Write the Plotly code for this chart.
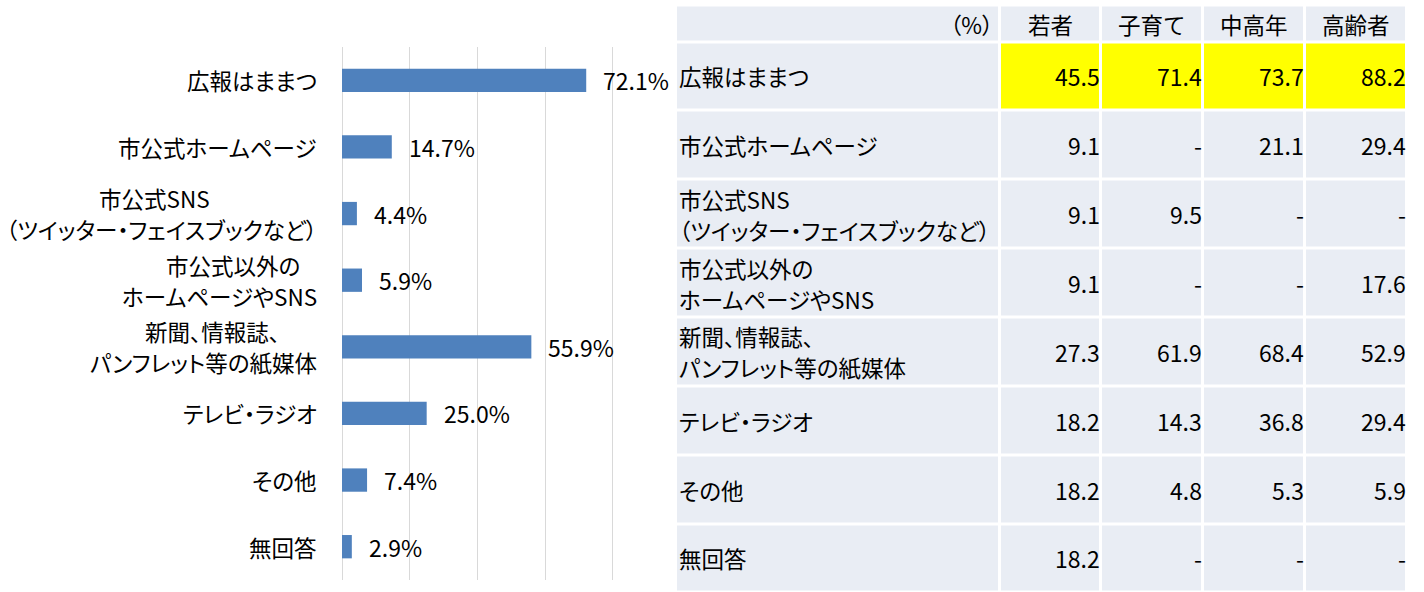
import plotly.graph_objects as go

# ---------------- data ----------------
categories = [
    "広報はままつ",
    "市公式ホームページ",
    "市公式SNS<br>（ツイッター・フェイスブックなど）",
    "市公式以外の<br>ホームページやSNS",
    "新聞、情報誌、<br>パンフレット等の紙媒体",
    "テレビ・ラジオ",
    "その他",
    "無回答",
]
overall_pct = [72.1, 14.7, 4.4, 5.9, 55.9, 25.0, 7.4, 2.9]

groups = ["若者", "子育て", "中高年", "高齢者"]
young = [45.5, 9.1, 9.1, 9.1, 27.3, 18.2, 18.2, 18.2]
parenting = [71.4, None, 9.5, None, 61.9, 14.3, 4.8, None]
middle_aged = [73.7, 21.1, None, None, 68.4, 36.8, 5.3, None]
elderly = [88.2, 29.4, None, 17.6, 52.9, 29.4, 5.9, None]
unit_label = "（%）"
highlight_category = "広報はままつ"

# ---------------- style constants ----------------
W, H = 1424, 592
FONT = "Noto Sans CJK JP, Noto Sans, sans-serif"
BAR_COLOR = "#4F81BD"
GRID_COLOR = "#D9D9D9"
CELL_COLOR = "#E9EDF4"
HILITE_COLOR = "#FFFF00"
TXT = "#000000"
JP_SIZE = 22.5
NUM_SIZE = 23
LINE_GAP = 31  # px between lines of two-line labels


def palt(s):
    return f"<span style=\"font-feature-settings:'palt'\">{s}</span>"


fig = go.Figure()

# ---------------- bar chart ----------------
fig.add_trace(go.Bar(
    x=overall_pct, y=categories, orientation="h",
    marker=dict(color=BAR_COLOR, line=dict(width=0)),
    width=0.35, xaxis="x", yaxis="y", hoverinfo="skip", showlegend=False,
))

annotations = []
LABEL_RIGHT = 319 / W
for cat, v in zip(categories, overall_pct):
    annotations.append(dict(
        x=v, y=cat, xref="x", yref="y", text=f"{v:.1f}%",
        xanchor="left", yanchor="middle", xshift=15, showarrow=False,
        font=dict(family=FONT, size=23, color=TXT),
    ))
    lines = cat.split("<br>")
    if len(lines) == 1:
        annotations.append(dict(
            x=LABEL_RIGHT, y=cat, xref="paper", yref="y", text=palt(cat),
            xanchor="right", yanchor="middle", showarrow=False,
            font=dict(family=FONT, size=JP_SIZE, color=TXT),
        ))
    else:
        # longest line right-aligned; other line centred on it
        est = [sum(1.0 if ord(ch) > 0x2000 else 0.62 for ch in ln) * JP_SIZE * 0.86 for ln in lines]
        long_i = est.index(max(est))
        for k, ln in enumerate(lines):
            ys = (0.5 - k) * LINE_GAP
            if k == long_i:
                ann = dict(x=LABEL_RIGHT, xanchor="right")
            else:
                ann = dict(x=LABEL_RIGHT - est[long_i] / 2 / W, xanchor="center")
            ann.update(dict(
                y=cat, xref="paper", yref="y", text=palt(ln), yshift=ys,
                yanchor="middle", showarrow=False,
                font=dict(family=FONT, size=JP_SIZE, color=TXT),
            ))
            annotations.append(ann)

# ---------------- table (heatmap cells + annotations) ----------------
label_col_w = 3.175        # in numeric-column units
col_edges = [0, label_col_w] + [label_col_w + i + 1 for i in range(len(groups))]
header_h = 0.53            # in data-row units
row_edges = [0, header_h] + [header_h + i + 1 for i in range(len(categories))]

columns = [young, parenting, middle_aged, elderly]
z = [[0] * (len(groups) + 1)]
for cat in categories:
    flag = 1 if cat == highlight_category else 0
    z.append([0] + [flag] * len(groups))

fig.add_trace(go.Heatmap(
    z=z, x=col_edges, y=row_edges,
    colorscale=[[0, CELL_COLOR], [1, HILITE_COLOR]], zmin=0, zmax=1,
    showscale=False, xgap=3, ygap=3, hoverinfo="skip",
    xaxis="x2", yaxis="y2",
))

annotations.append(dict(
    x=label_col_w, y=header_h / 2, xref="x2", yref="y2", text=palt(unit_label),
    xanchor="right", yanchor="middle", xshift=-5, showarrow=False,
    font=dict(family=FONT, size=JP_SIZE, color=TXT),
))
for i, g in enumerate(groups):
    annotations.append(dict(
        x=label_col_w + i + 0.5, y=header_h / 2, xref="x2", yref="y2", text=g,
        xanchor="center", yanchor="middle", showarrow=False,
        font=dict(family=FONT, size=JP_SIZE, color=TXT),
    ))
for r, cat in enumerate(categories):
    yc = header_h + r + 0.5
    lines = cat.split("<br>")
    for k, ln in enumerate(lines):
        ys = ((len(lines) - 1) / 2 - k) * LINE_GAP
        annotations.append(dict(
            x=0, y=yc, xref="x2", yref="y2", text=palt(ln), yshift=ys,
            xanchor="left", yanchor="middle", xshift=1, showarrow=False,
            font=dict(family=FONT, size=JP_SIZE, color=TXT),
        ))
    for i, col in enumerate(columns):
        v = col[r]
        annotations.append(dict(
            x=label_col_w + i + 1, y=yc, xref="x2", yref="y2",
            text="-" if v is None else f"{v:.1f}",
            xanchor="right", yanchor="middle", xshift=1, showarrow=False,
            font=dict(family=FONT, size=NUM_SIZE, color=TXT),
        ))

# table pixel geometry
tbl_left, tbl_top, row_px, numcol_px = 676, 5.5, 68.86, 101.9
tbl_right = tbl_left + col_edges[-1] * numcol_px
y_top_units = -tbl_top / row_px
y_bot_units = (H - tbl_top) / row_px

fig.update_layout(
    width=W, height=H, margin=dict(l=0, r=0, t=0, b=0),
    paper_bgcolor="white", plot_bgcolor="white",
    font=dict(family=FONT, color=TXT),
    xaxis=dict(
        domain=[342 / W, 614 / W], range=[0, 80.3], dtick=20, tick0=0,
        showgrid=True, gridcolor=GRID_COLOR, gridwidth=1.3,
        zeroline=True, zerolinecolor=GRID_COLOR, zerolinewidth=1.3,
        showticklabels=False, showline=False, ticks="", fixedrange=True,
    ),
    yaxis=dict(
        domain=[1 - 580 / H, 1 - 47 / H], autorange="reversed",
        type="category", showticklabels=False, showgrid=False,
        zeroline=False, ticks="", fixedrange=True,
    ),
    xaxis2=dict(
        domain=[tbl_left / W, min(tbl_right / W, 1)], range=[0, col_edges[-1]],
        anchor="y2", showgrid=False, zeroline=False, showticklabels=False,
        ticks="", fixedrange=True,
    ),
    yaxis2=dict(
        domain=[0, 1], range=[y_bot_units, y_top_units], anchor="x2",
        showgrid=False, zeroline=False, showticklabels=False, ticks="",
        fixedrange=True,
    ),
    annotations=annotations,
)

fig.write_html("out.html", config={"displayModeBar": False},
               post_script="document.body.style.margin='0';")
